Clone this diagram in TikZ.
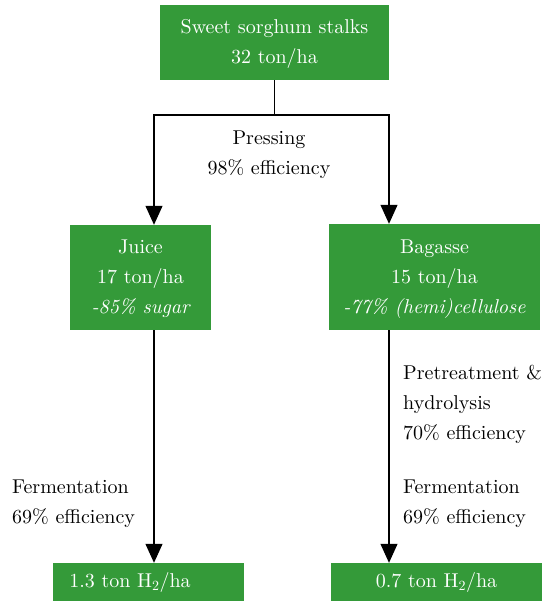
\documentclass[tikz,border=0pt]{standalone}
\usepackage{fontspec}
\setmainfont{lmroman10-regular.otf}[ItalicFont=lmroman10-italic.otf, BoldFont=lmroman10-bold.otf]
\usetikzlibrary{arrows.meta}
\definecolor{boxgreen}{RGB}{52,154,57}
\tikzset{
  gbox/.style={fill=boxgreen, draw=none, text=white, align=center, inner sep=0pt,
    font=\fontsize{20}{30}\selectfont},
  lbl/.style={align=left, inner sep=0pt, font=\fontsize{20}{30}\selectfont, text=black},
  arr/.style={line width=1.1pt, -{Triangle[length=19pt,width=17pt]}},
  ln/.style={line width=1.1pt}
}
\begin{document}
\begin{tikzpicture}[x=1pt,y=-1pt]
\useasboundingbox (0,0) rectangle (542,601);
\node[gbox, minimum width=229pt, minimum height=75pt] (top) at (274.5,42.5)
  {\raisebox{-7pt}{\begin{tabular}{@{}c@{}}Sweet sorghum stalks\\32 ton/ha\end{tabular}}};
\node[gbox, minimum width=141pt, minimum height=105pt] (juice) at (140.5,277.5)
  {\raisebox{-8.5pt}{\begin{tabular}{@{}c@{}}Juice\\17 ton/ha\\\itshape -85\% sugar\end{tabular}}};
\node[gbox, minimum width=211pt, minimum height=106pt] (bag) at (434.5,277)
  {\raisebox{-8.5pt}{\begin{tabular}{@{}c@{}}Bagasse\\15 ton/ha\\\itshape -77\% (hemi)cellulose\end{tabular}}};
\node[gbox, minimum width=191pt, minimum height=38pt] (h2l) at (148.5,582)
  {1.3 ton H\textsubscript{2}/ha\hspace*{37pt}};
\node[gbox, minimum width=211pt, minimum height=38pt] (h2r) at (436.5,582)
  {0.7 ton H\textsubscript{2}/ha};
\coordinate (lt) at (154,115);
\coordinate (rt) at (389,115);
\draw[ln] (top.south) -- (top.south |- lt);
\draw[arr] (top.south |- lt) -- (lt) -- (lt |- juice.north);
\draw[arr] (top.south |- rt) -- (rt) -- (rt |- bag.north);
\draw[arr] (lt |- juice.south) -- (lt |- h2l.north);
\draw[arr] (rt |- bag.south) -- (rt |- h2r.north);
\node[lbl, align=center] (press) at (269,155) {Pressing\\98\% efficiency};
\node[lbl, anchor=west] (fl) at (12,504) {Fermentation\\69\% efficiency};
\node[lbl, anchor=west] (pre) at (403,404) {Pretreatment \&\\hydrolysis\\70\% efficiency};
\node[lbl, anchor=west] (fr) at (403,504) {Fermentation\\69\% efficiency};
\end{tikzpicture}
\end{document}
